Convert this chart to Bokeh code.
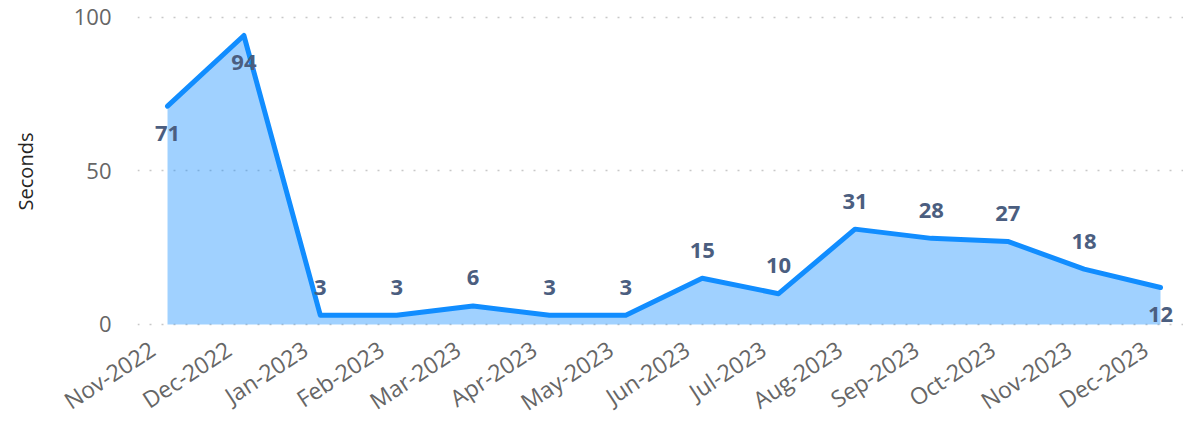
from bokeh.plotting import figure
from bokeh.models import ColumnDataSource, Range1d, FixedTicker, CustomJSTickFormatter
from bokeh.core.properties import value
from bokeh.embed import file_html
from bokeh.resources import INLINE

months = ["Nov-2022", "Dec-2022", "Jan-2023", "Feb-2023", "Mar-2023", "Apr-2023",
          "May-2023", "Jun-2023", "Jul-2023", "Aug-2023", "Sep-2023", "Oct-2023",
          "Nov-2023", "Dec-2023"]
seconds = [71, 94, 3, 3, 6, 3, 3, 15, 10, 31, 28, 27, 18, 12]
label_below = [True, True, False, False, False, False, False, False, False, False,
               False, False, False, True]
y_ticks = [0, 50, 100]

FONT = "Open Sans"
idx = list(range(len(months)))
src = ColumnDataSource(dict(
    x=idx, y=seconds, zero=[0] * len(idx),
    txt=[str(v) for v in seconds],
    yoff=[27 if b else -28 for b in label_below],
))

p = figure(width=None, height=None, frame_width=1046, frame_height=312,
           output_backend="svg", toolbar_location=None,
           x_range=Range1d(-0.393, 13.301), y_range=Range1d(-1, 100.5),
           min_border_left=137, min_border_top=15, min_border_right=0,
           min_border_bottom=10)
p.outline_line_color = None
p.background_fill_color = "white"
p.border_fill_color = "white"

p.varea(x="x", y1="zero", y2="y", source=src, fill_color="#118DFF", fill_alpha=0.4)
p.line(x="x", y="y", source=src, line_color="#118DFF", line_width=5,
       line_join="round", line_cap="round")
p.text(x="x", y="y", text="txt", source=src, y_offset="yoff",
       text_align="center", text_baseline="middle",
       text_font=value(FONT), text_font_style="bold", text_font_size="22px",
       text_color="#4b5e80")

p.xgrid.visible = False
p.ygrid.ticker = FixedTicker(ticks=y_ticks)
p.ygrid.grid_line_color = "#c8c8c8"
p.ygrid.grid_line_dash = "2 10"
p.ygrid.grid_line_width = 1.5

p.yaxis.ticker = FixedTicker(ticks=y_ticks)
p.yaxis.axis_line_color = None
p.yaxis.major_tick_line_color = None
p.yaxis.minor_tick_line_color = None
p.yaxis.major_label_standoff = 20
p.yaxis.major_label_text_font = FONT
p.yaxis.major_label_text_font_size = "22px"
p.yaxis.major_label_text_color = "#666666"
p.yaxis.axis_label = "Seconds"
p.yaxis.axis_label_text_font = FONT
p.yaxis.axis_label_text_font_size = "20px"
p.yaxis.axis_label_text_font_style = "normal"
p.yaxis.axis_label_text_color = "#252423"
p.yaxis.axis_label_standoff = 32

# rotated labels end slightly left of each month's point, as in the reference
shift = 0.2
p.xaxis.ticker = FixedTicker(ticks=[i - shift for i in idx])
p.xaxis.formatter = CustomJSTickFormatter(
    args=dict(months=months, shift=shift),
    code="return months[Math.round(tick + shift)];")
p.xaxis.axis_line_color = None
p.xaxis.major_tick_line_color = None
p.xaxis.minor_tick_line_color = None
p.xaxis.major_label_orientation = 0.58
p.xaxis.major_label_standoff = 13
p.xaxis.major_label_text_font = FONT
p.xaxis.major_label_text_font_size = "23px"
p.xaxis.major_label_text_color = "#666666"

open("out.html", "w").write(file_html(p, INLINE))
